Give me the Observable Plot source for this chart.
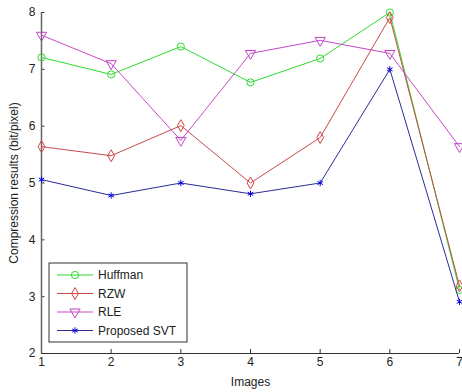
<!DOCTYPE html>
<html><head><meta charset="utf-8">
<script src="https://cdn.jsdelivr.net/npm/d3@7"></script>
<script src="https://cdn.jsdelivr.net/npm/@observablehq/plot@0.6"></script>
<style>
body{margin:0;background:#fff;}
#chart{position:relative;width:462px;height:392px;}
</style>
</head><body><div id="chart"></div>
<script>
const images = [1, 2, 3, 4, 5, 6, 7];
const huffman = [7.21, 6.91, 7.40, 6.77, 7.19, 8.00, 3.12];
const rzw     = [5.64, 5.48, 6.01, 5.00, 5.80, 7.91, 3.19];
const rle     = [7.60, 7.10, 5.75, 7.28, 7.51, 7.28, 5.64];
const svt     = [5.06, 4.78, 5.00, 4.81, 5.00, 7.00, 2.91];
const seriesNames = ["Huffman", "RZW", "RLE", "Proposed SVT"];
const xTicks = [1, 2, 3, 4, 5, 6, 7];
const yTicks = [2, 3, 4, 5, 6, 7, 8];

const styles = {
  "Huffman": {line: "#2edb2e", mark: "#2edb2e", symbol: "circle", rotate: 0, r: 3.6},
  "RZW": {line: "#c84a4a", mark: "#d84040", symbol: "diamond", rotate: 0, r: 3.6},
  "RLE": {line: "#c848c8", mark: "#c040c8", symbol: "triangle", rotate: 180, r: 3.8},
  "Proposed SVT": {line: "#2c2c96", mark: "#0000e0", symbol: "asterisk", rotate: 0, r: 3}
};
const vals = [huffman, rzw, rle, svt];
const data = [];
seriesNames.forEach((s, i) => images.forEach((x, j) => data.push({series: s, x, y: vals[i][j]})));

const marks = [];
seriesNames.forEach(s => {
  const st = styles[s];
  const d = data.filter(e => e.series === s);
  marks.push(Plot.line(d, {x: "x", y: "y", stroke: st.line, strokeWidth: 1}));
  marks.push(Plot.dot(d, {x: "x", y: "y", stroke: st.mark, fill: "none", symbol: st.symbol, rotate: st.rotate, r: st.r, strokeWidth: 1}));
});

const plot = Plot.plot({
  width: 462, height: 392,
  marginLeft: 41, marginRight: 3, marginTop: 12, marginBottom: 39,
  style: {fontFamily: "Liberation Sans, Arial, sans-serif", fontSize: "12px", background: "#fff", color: "#222"},
  x: {domain: [1, 7]},
  y: {domain: [2, 8]},
  marks: [
    Plot.axisX(xTicks, {tickSize: 0, tickPadding: 4, tickFormat: d3.format("d"), label: "Images", labelAnchor: "center", labelArrow: "none", labelOffset: 32, fontSize: 12}),
    Plot.axisY(yTicks, {tickSize: 0, tickPadding: 6, tickFormat: d3.format("d"), label: "Compression results (bit/pixel)", labelAnchor: "center", labelOffset: 32, labelArrow: "none", fontSize: 12}),
    Plot.ruleX(xTicks, {x: d => d, y1: 2, y2: 2.07, stroke: "#333"}),
    Plot.ruleY(yTicks, {y: d => d, x1: 1, x2: 1.05, stroke: "#333"}),
    Plot.ruleY([2], {stroke: "#333"}),
    Plot.ruleX([1], {stroke: "#666", strokeWidth: 1.5}),
    ...marks
  ]
});
document.getElementById("chart").appendChild(plot);

// Legend box drawn inside the plot area
const svg = d3.select(plot);
const lg = svg.append("g").attr("transform", "translate(49,263)");
lg.append("rect").attr("width", 138).attr("height", 79).attr("fill", "#fff").attr("stroke", "#333");
seriesNames.forEach((s, i) => {
  const st = styles[s];
  const yy = 12 + i * 18.5;
  lg.append("line").attr("x1", 8).attr("x2", 44).attr("y1", yy).attr("y2", yy).attr("stroke", st.line);
  const sym = {circle: d3.symbolCircle, diamond: d3.symbolDiamond, triangle: d3.symbolTriangle, asterisk: d3.symbolAsterisk}[st.symbol];
  lg.append("path").attr("d", d3.symbol(sym, Math.PI * st.r * st.r)())
    .attr("transform", `translate(26,${yy}) rotate(${st.rotate})`)
    .attr("fill", "none").attr("stroke", st.mark);
  lg.append("text").attr("x", 49).attr("y", yy).attr("dy", "0.35em").attr("text-anchor", "start")
    .attr("font-family", "Liberation Sans, Arial, sans-serif").attr("font-size", 12).attr("fill", "#222").text(s);
});
</script>
</body></html>
